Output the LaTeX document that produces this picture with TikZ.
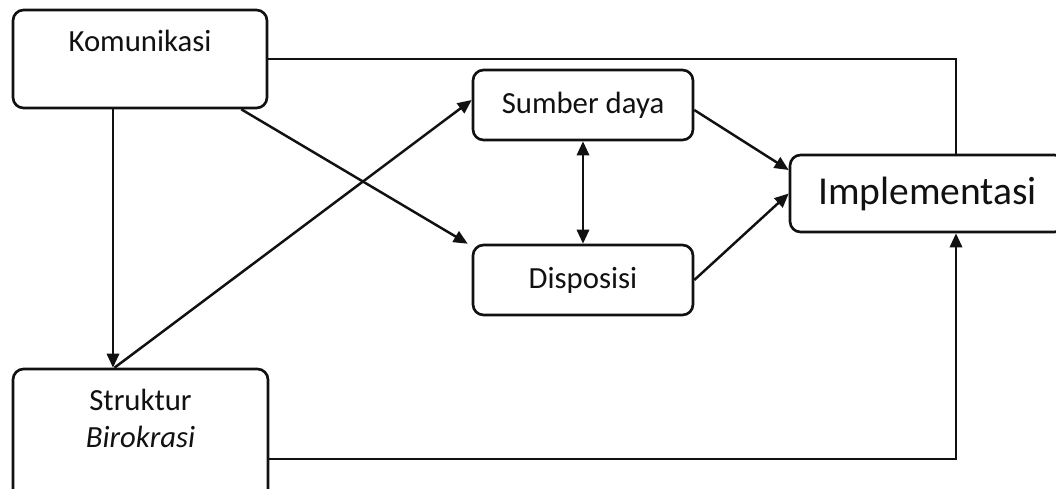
\documentclass[tikz,border=0pt]{standalone}
\usepackage{fontspec}
\setmainfont{Carlito}
\usepackage{tikz}
\usetikzlibrary{arrows.meta,positioning,calc}
\definecolor{ink}{HTML}{111111}
\tikzset{
  impbox/.style={rectangle,rounded corners=6pt,draw=ink,line width=1.5pt,
    fill=white,text=ink,align=center,font=\fontsize{17.5}{20.5}\selectfont,inner sep=3pt},
  imparr/.style={-{Triangle[length=8pt,width=7pt]},line width=1.4pt,color=ink},
  impboth/.style={{Triangle[length=8pt,width=7pt]}-{Triangle[length=8pt,width=7pt]},line width=1.4pt,color=ink},
  implink/.style={line width=1.4pt,color=ink},
}

\begin{document}
\begin{tikzpicture}[x=0.02cm, y=-0.02cm]
  \useasboundingbox (0,0) rectangle (1056,488);
  \node[impbox, minimum width=5.08cm, minimum height=1.96cm, text height=0.45cm, text depth=0.75cm] (kom) at (140,59) {Komunikasi};
  \node[impbox, minimum width=5.1cm, minimum height=2.6cm, text height=0.9cm, text depth=0.38cm] (stk) at (140.5,434) {Struktur\\\textit{Birokrasi}};
  \node[impbox, minimum width=4.4cm, minimum height=1.4cm] (sdy) at (583,105) {Sumber daya};
  \node[impbox, minimum width=4.4cm, minimum height=1.4cm] (dsp) at (583,280) {Disposisi};
  \node[impbox, minimum width=5.5cm, minimum height=1.54cm, font=\fontsize{22.5}{26}\selectfont] (imp) at (927.5,193.5) {Implementasi};
  \coordinate (rail) at (956,0);

  \draw[implink] (kom.east) -| (rail |- imp.north);
  \draw[imparr] ([xshift=-0.54cm]kom.south) -- ([xshift=-0.54cm]kom.south |- stk.north);
  \draw[imparr] ([xshift=-0.54cm]kom.south east) -- ([xshift=-0.08cm]dsp.north west);
  \draw[imparr] ([xshift=-0.52cm]stk.north) -- ([yshift=0.1cm]sdy.west);
  \draw[impboth] (sdy) -- (dsp);
  \draw[imparr] ([yshift=-0.1cm]sdy.east) -- ([yshift=0.47cm]imp.west);
  \draw[imparr] (dsp.east) -- (imp.west);
  \draw[imparr] ([yshift=-0.5cm]stk.east) -| (rail |- imp.south);
\end{tikzpicture}
\end{document}
